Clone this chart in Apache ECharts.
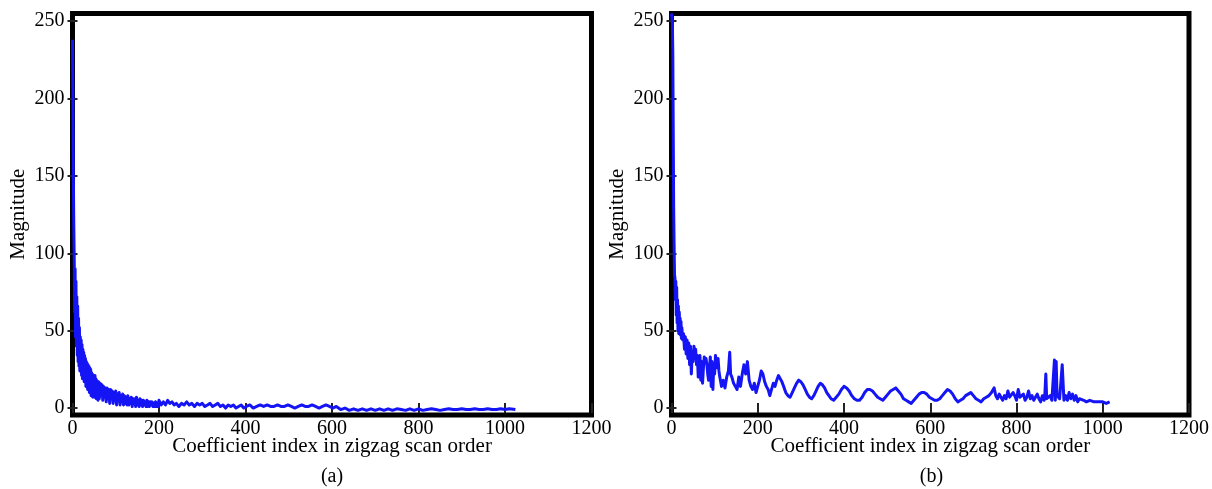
<!DOCTYPE html>
<html>
<head>
<meta charset="utf-8">
<script src="https://cdn.jsdelivr.net/npm/echarts@6/dist/echarts.min.js"></script>
<style>html,body{margin:0;padding:0;background:#fff}#c{width:1212px;height:489px}</style>
</head>
<body>
<div id="c"></div>
<script>
// ---- data ----
const xAxisTicks = [0, 200, 400, 600, 800, 1000, 1200];
const yAxisTicks = [0, 50, 100, 150, 200, 250];
const xAxisTitle = 'Coefficient index in zigzag scan order';
const yAxisTitle = 'Magnitude';
const panelLabels = ['(a)', '(b)'];

// panel (a): [coefficient index, magnitude]
const seriesA = [
 [0,238],[1,205],[2,150],[3,118],[4,96],[5,62],[6,90],[7,46],[8,82],[9,40],[10,72],[11,34],[12,66],[13,30],[14,58],[15,27],[16,52],[17,24],[18,46],[19,28],[20,44],[21,21],[22,41],[23,19],[24,38],[25,24],[26,36],[27,17],[28,34],[29,20],[30,32],[31,14],[32,30],[33,17],[34,29],[35,12],[36,28],[37,15],[38,27],[39,10],[40,26],[41,13],[42,25],[43,8],[44,23],[45,12],[46,22],[47,7],[48,21],[49,10],[50,20],[51,7],[52,21],[53,9],[54,19],[55,6],[56,18],[57,9],[58,17],[59,5],
 [60,17],[62,6],[64,16],[66,8],[68,15],[70,5],[72,14],[74,7],[76,13],[78,4],[80,13],[82,6],[84,12],[86,3],[88,12],[90,6],[92,11],[94,3],[96,10],[98,5],[100,11],[102,2],[104,9],[106,5],[108,10],[110,2],[112,8],[114,4],[116,9],[118,2],[120,8],[122,3],[124,7],[126,2],[128,8],[130,2],[132,6],[134,3],[136,7],[138,1],[140,6],[142,3],[144,6],[146,1],[148,7],[150,2],[152,5],[154,1],[156,6],[158,2],[160,5],[162,1],[164,5],[166,2],[168,4],[170,1],[172,5],[174,1],[176,4],[178,1],[180,4],[182,2],[184,4],[186,1],[188,3],[190,1],[192,4],[194,1],[196,3],[198,1],
 [200,5],[205,2],[210,4],[215,2],[220,5],[225,3],[230,4],[235,2],[240,3],[246,1],[252,3],[258,2],[264,4],[270,2],[276,3],[282,1],[288,3],[294,2],[300,3],[306,1],[312,2],[318,3],[324,1],[330,2],[336,3],[342,1],[348,2],[354,0],[360,2],[366,1],[372,2],[378,0],[384,1],[390,2],[396,0],[402,1],[410,2],[418,0],[426,1],[434,2],[442,1],[450,2],[458,1],[466,1],[474,2],[482,1],[490,1],[498,2],[506,1],[514,0],[522,1],[530,2],[538,1],[546,1],[554,2],[562,1],[570,0],[578,1],[586,2],[594,1],[602,0],[610,1],[620,-1],[630,0],[640,-1.5],[650,-0.5],[660,-1.5],[670,-0.5],[680,-1.5],[690,-0.5],[700,-1.5],[710,-0.5],[720,-1.5],[730,-0.5],[740,-1.5],[750,-0.5],[760,-1],[770,-1.5],[780,-0.5],[790,-1.5],[800,-0.5],[810,-1.5],[820,-1],[830,-0.5],[840,-1],[850,-1.5],[860,-1],[870,-0.5],[880,-1],[890,-1],[900,-0.5],[910,-1],[920,-1],[930,-0.5],[940,-1],[950,-1],[960,-0.5],[970,-1],[980,-1],[990,-0.5],[1000,-1],[1010,-0.5],[1024,-1]
];

// panel (b): [coefficient index, magnitude]
const seriesB = [
 [0,255],[1,256],[2,250],[3,230],[4,180],[5,130],[6,106],[7,86],[8,84],[9,70],[10,82],[11,60],[12,78],[13,55],[14,70],[15,50],[16,66],[17,48],[18,62],[19,52],[20,58],[21,47],[22,56],[23,45],[24,52],[26,44],[28,48],[30,38],[32,46],[34,35],[36,44],[38,32],[40,42],[42,28],[44,40],[46,22],[48,36],[50,30],[52,40],[54,32],[56,38],[58,28],[60,34],[62,20],[64,28],[66,34],[68,18],[70,30],[72,16],[74,26],[76,33],[78,30],[80,32],[82,28],[84,22],[86,18],[88,26],[90,33],[92,14],[94,30],[96,12],[98,28],[100,22],[102,34],[104,30],[106,26],[108,32],[110,24],[112,20],[116,14],[120,18],[124,13],[128,20],[132,24],[135,36],[137,22],[140,20],[144,16],[148,14],[152,12],[156,20],[160,14],[164,22],[168,28],[172,22],[176,30],[180,18],[184,14],[188,12],[192,16],[196,10],[200,14],[204,18],[208,24],[212,22],[216,17],[220,14],[224,12],[228,8],[232,12],[236,16],[240,14],[244,18],[248,21],[252,20],[256,17],[260,14],[265,10],[270,8],[275,7],[280,10],[285,13],[290,16],[295,18],[300,17],[305,15],[310,12],[315,9],[320,7],[325,6],[330,8],[335,11],[340,14],[345,16],[350,15],[355,13],[360,10],[365,8],[370,6],[376,5],[382,7],[388,9],[394,12],[400,14],[406,13],[412,11],[418,8],[424,6],[430,5],[436,5],[442,7],[448,10],[454,12],[460,12],[466,11],[472,9],[478,7],[484,6],[490,5],[496,7],[502,9],[508,11],[514,12],[520,13],[526,11],[532,9],[538,6],[544,5],[550,4],[556,3],[562,5],[568,7],[574,9],[580,10],[586,10],[592,9],[598,7],[604,6],[610,5],[616,5],[622,6],[628,8],[634,10],[640,12],[646,11],[652,9],[658,6],[664,4],[670,5],[676,6],[682,8],[688,9],[694,10],[700,8],[706,6],[712,5],[718,4],[724,6],[730,7],[736,8],[742,10],[748,13],[752,8],[756,6],[760,9],[764,7],[768,5],[772,8],[776,6],[780,11],[784,7],[788,6],[792,10],[796,8],[800,5],[804,12],[808,7],[812,6],[816,9],[820,5],[824,7],[828,11],[832,6],[836,8],[840,5],[844,7],[848,9],[852,6],[856,4],[860,8],[864,5],[866,10],[868,22],[870,6],[874,5],[878,8],[882,5],[886,6],[888,31],[890,5],[892,30],[894,8],[900,6],[904,5],[906,28],[908,27],[910,5],[914,8],[918,5],[922,10],[926,6],[930,9],[934,5],[938,8],[942,4],[946,6],[950,5],[956,5],[962,4],[970,5],[980,4],[990,4],[1000,4],[1008,3],[1012,2],[1016,4]
];

// ---- chart ----
const FONT = '"Liberation Serif", "Times New Roman", serif';
const panels = [
  { left: 72.5, width: 519 },
  { left: 671.5, width: 520 }
];
const TOP = 13.5, HEIGHT = 401.5;

const chart = echarts.init(document.getElementById('c'), null, { renderer: 'canvas' });

const tickStyle = { inside: true, length: 5, lineStyle: { color: '#222', width: 2 } };
const labelText = { fontFamily: FONT, fontSize: 20, color: '#000' };
const nameText = { fontFamily: FONT, fontSize: 21, color: '#000' };
const plain = v => String(v);

const grids = panels.map(p => ({
  left: p.left, top: TOP, width: p.width, height: HEIGHT,
  show: true, borderColor: '#000', borderWidth: 5, z: 0,
  backgroundColor: 'rgba(0,0,0,0)', containLabel: false
}));

const xAxes = [], yAxes = [];
panels.forEach((p, i) => {
  xAxes.push({
    gridIndex: i, type: 'value', position: 'bottom', min: 0, max: 1200, interval: 200,
    name: xAxisTitle, nameLocation: 'middle', nameGap: 21, nameMoveOverlap: false,
    nameTextStyle: nameText,
    axisLine: { show: false }, axisTick: tickStyle,
    axisLabel: Object.assign({ margin: 4, customValues: xAxisTicks, formatter: plain }, labelText),
    splitLine: { show: false }
  });
  xAxes.push({
    gridIndex: i, type: 'value', position: 'top', min: 0, max: 1200, interval: 200,
    axisLine: { show: false }, axisTick: tickStyle,
    axisLabel: { show: false }, splitLine: { show: false }
  });
  yAxes.push({
    gridIndex: i, type: 'value', position: 'left', min: -4.5, max: 255,
    name: yAxisTitle, nameLocation: 'middle', nameGap: 44,
    nameTextStyle: nameText,
    axisLine: { show: false },
    axisTick: Object.assign({ customValues: yAxisTicks }, tickStyle),
    axisLabel: Object.assign({ margin: 8, customValues: yAxisTicks, formatter: plain }, labelText),
    splitLine: { show: false }
  });
  yAxes.push({
    gridIndex: i, type: 'value', position: 'right', min: -4.5, max: 255,
    axisLine: { show: false },
    axisTick: Object.assign({ customValues: yAxisTicks }, tickStyle),
    axisLabel: { show: false }, splitLine: { show: false }
  });
});

const seriesData = [seriesA, seriesB];
const series = seriesData.map((d, i) => ({
  type: 'line', xAxisIndex: i * 2, yAxisIndex: i * 2, data: d,
  showSymbol: false, symbol: 'none', clip: false,
  lineStyle: { color: '#1414f5', width: 3, join: 'round' }, z: 2
}));

const graphic = panels.map((p, i) => ({
  type: 'text', x: p.left + p.width / 2, y: 477,
  style: { text: panelLabels[i], font: '20px ' + FONT, fill: '#000', textAlign: 'center', textVerticalAlign: 'middle' }
}));

chart.setOption({
  animation: false,
  backgroundColor: '#fff',
  grid: grids, xAxis: xAxes, yAxis: yAxes, series: series, graphic: graphic
});
</script>
</body>
</html>
